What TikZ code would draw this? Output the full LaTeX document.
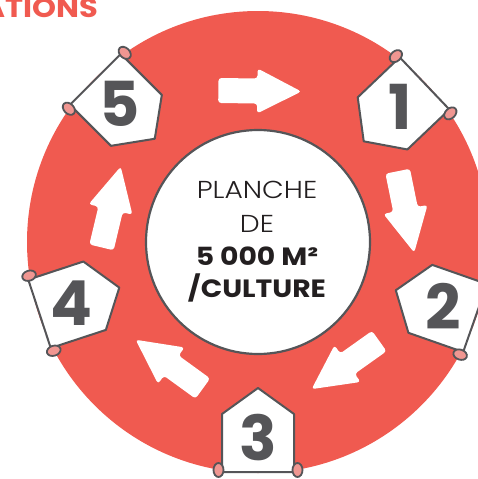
\documentclass[tikz,border=0pt]{standalone}
\usepackage{fontspec}
\setmainfont{Poppins}
\newfontfamily\poplight[FakeStretch=1.15]{Poppins Light}
\newfontfamily\popwide[FakeStretch=1.13]{Poppins}
\definecolor{cred}{RGB}{240,90,80}
\definecolor{cpink}{RGB}{240,150,145}
\definecolor{cgray}{RGB}{85,85,88}
\definecolor{ctext}{RGB}{35,31,32}
\tikzset{
  housebox/.style={fill=white, draw=cgray, line width=2pt, line join=round},
  rollbox/.style={fill=cpink, draw=cgray, line width=1.8pt},
  numtext/.style={font=\fontsize{62}{62}\selectfont\bfseries, text=cgray, inner sep=0pt},
  arrowbox/.style={fill=white, rounded corners=3pt},
  lighttext/.style={font=\poplight\fontsize{24.5}{24.5}\selectfont, text=ctext, anchor=base, inner sep=0pt},
  boldtext/.style={font=\popwide\bfseries\fontsize{25}{25}\selectfont, text=ctext, anchor=base, inner sep=0pt}
}
\begin{document}
\begin{tikzpicture}[x=1pt,y=-1pt]
\useasboundingbox (0,0) rectangle (478,479);
\clip (0,0) rectangle (478,479);
\coordinate (O) at (258,242);
\node[circle, fill=cred, minimum size=462pt, inner sep=0pt] (ring) at (O) {};
\node[circle, fill=white, draw=cgray, line width=2.2pt, minimum size=224pt, inner sep=0pt] (hub) at (O) {};
% arrows
\foreach \ang in {89.3, 11.5, -54.6, -126, 166.6}{
  \begin{scope}[shift={(O)}, rotate=\ang]
    \fill[arrowbox] (138.5,-41.5) -- (163.5,-41.5) -- (163.5,-2.5) -- (173.5,-2.5) -- (151,41.5) -- (128.5,-2.5) -- (138.5,-2.5) -- cycle;
  \end{scope}
}
% labels
\foreach \ang/\num/\nm in {43.6/1/l1, -19.3/2/l2, -90/3/l3, -161.8/4/l4, 135/5/l5}{
  \begin{scope}[shift={(O)}, rotate=\ang]
    \draw[housebox] (146,0) -- (172,36) -- (230,36) -- (230,-36) -- (172,-36) -- cycle;
    \draw[rollbox] (228,39.5) ellipse[x radius=7, y radius=5];
    \draw[rollbox] (228,-39.5) ellipse[x radius=7, y radius=5];
    \node[numtext] (\nm) at (196,0) {\num};
  \end{scope}
}
% centre text
\node[lighttext] (t1) at (257,198) {PLANCHE};
\node[lighttext] (t2) at (257,232) {DE};
\node[boldtext] (t3) at (257,265) {5 000 M²};
\node[boldtext] (t4) at (257,297) {/CULTURE};
% title fragment
\node[font=\popwide\bfseries\fontsize{27}{27}\selectfont, text=cred, anchor=base east, inner sep=0pt] (title) at (98,17) {ATIONS};
\end{tikzpicture}
\end{document}
